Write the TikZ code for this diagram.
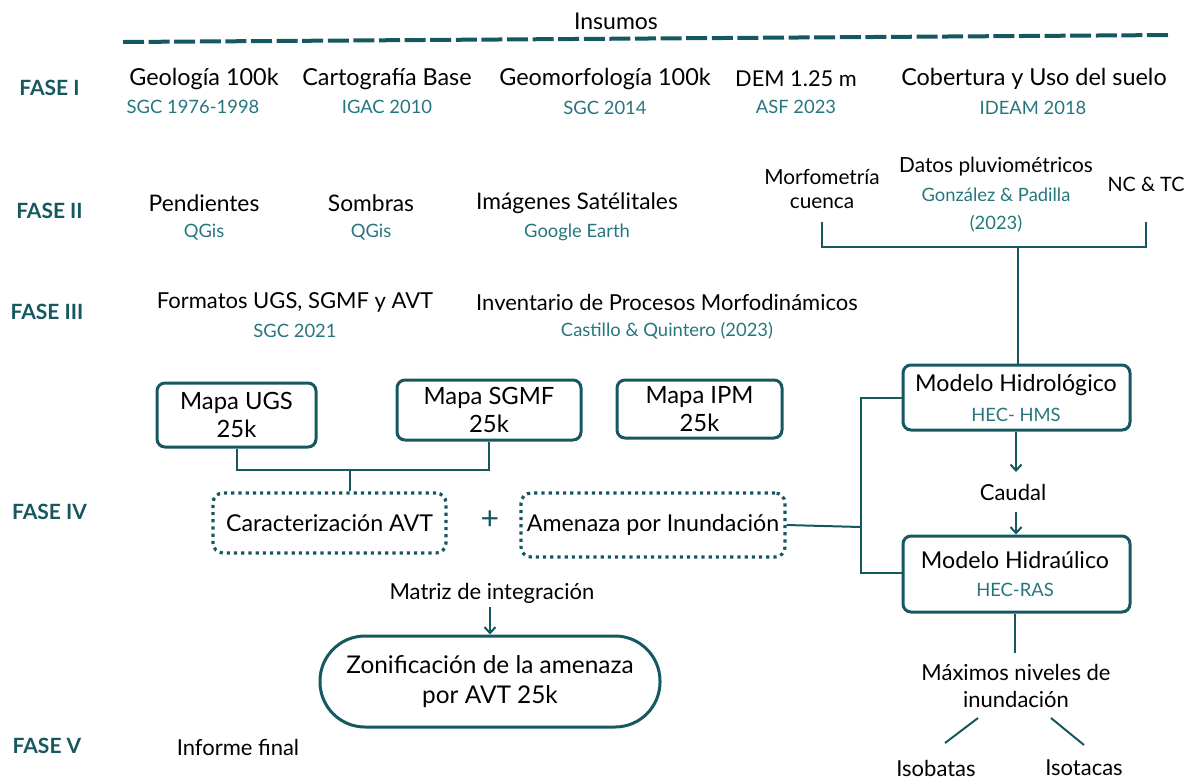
\documentclass[tikz,border=0pt]{standalone}
\usepackage{fontspec}
\setmainfont{Lato}
\usetikzlibrary{arrows.meta}
\definecolor{teal1}{RGB}{22,88,96}
\definecolor{subteal}{RGB}{38,118,126}
\begin{document}
\begin{tikzpicture}[x=0.5pt,y=-0.5pt,
 main/.style={font=\fontsize{11}{14}\selectfont, align=center, inner sep=1pt},
 mainA/.style={font=\fontsize{11.7}{14}\selectfont, align=center, inner sep=1pt},
 mainB/.style={font=\fontsize{11.4}{14}\selectfont, align=center, inner sep=1pt},
 small/.style={font=\fontsize{11}{13.5}\selectfont, align=center, inner sep=1pt},
 sub/.style={font=\fontsize{9.2}{14}\selectfont, text=subteal, align=center, inner sep=1pt},
 fase/.style={font=\bfseries\fontsize{10.5}{12}\selectfont, text=teal1, inner sep=1pt},
 box/.style={draw=teal1, line width=1.5pt, rounded corners=4pt, align=center, inner sep=0pt, font=\fontsize{11.9}{14}\selectfont},
 dotbox/.style={draw=teal1, line width=1.6pt, dotted, rounded corners=5pt, inner sep=0pt, align=center, font=\fontsize{11.6}{14}\selectfont},
 conn/.style={draw=teal1, line width=1pt},
 arr/.style={conn, -{Straight Barb[length=3pt,width=5.5pt]}}]

\useasboundingbox (0,0) rectangle (1193,778);

% header
\node[small, font=\fontsize{11.5}{13}\selectfont] (insumos) at (616,21) {Insumos};
\coordinate (dashA) at (123,42);
\coordinate (dashB) at (1172,35);
\draw[draw=teal1, line width=2pt, dash pattern=on 10.5pt off 2.3pt] (dashA) -- (dashB);

% phase labels
\node[fase] (f1) at (49.5,88) {FASE I};
\node[fase] (f2) at (49.5,211) {FASE II};
\node[fase] (f3) at (47,312) {FASE III};
\node[fase] (f4) at (49.5,512) {FASE IV};
\node[fase] (f5) at (47,746) {FASE V};

% phase I
\node[mainA] (geo) at (204,79) {Geología 100k};
\node[sub] (geos) at (193,107) {SGC 1976-1998};
\node[mainA] (carto) at (387,79) {Cartografía Base};
\node[sub] (cartos) at (387,107) {IGAC 2010};
\node[mainA] (geom) at (605,79) {Geomorfología 100k};
\node[sub] (geoms) at (605,108) {SGC 2014};
\node[mainA, font=\fontsize{10.9}{14}\selectfont] (dem) at (796,79) {DEM 1.25 m};
\node[sub] (dems) at (796,107) {ASF 2023};
\node[mainA] (cob) at (1034,79) {Cobertura y Uso del suelo};
\node[sub] (cobs) at (1033,108) {IDEAM 2018};

% phase II
\node[mainB] (pend) at (204,203) {Pendientes};
\node[sub] (pends) at (204,232) {QGis};
\node[mainB] (somb) at (371,203) {Sombras};
\node[sub] (sombs) at (371,232) {QGis};
\node[mainB] (img) at (577,203) {Imágenes Satélitales};
\node[sub] (imgs) at (577,232) {Google Earth};
\node[main, font=\fontsize{10.4}{12.4}\selectfont] (morf) at (822,189) {Morfometría\\cuenca};
\node[main, font=\fontsize{10.4}{12.4}\selectfont] (datos) at (996,167) {Datos pluviométricos};
\node[sub] (datoss) at (996,210) {González \& Padilla\\(2023)};
\node[main, font=\fontsize{9.9}{12}\selectfont] (nctc) at (1146,184) {NC \& TC};

% phase III
\node[main] (form) at (295,302) {Formatos UGS, SGMF y AVT};
\node[sub] (forms) at (295,331) {SGC 2021};
\node[main] (inv) at (667,302) {Inventario de Procesos Morfodinámicos};
\node[sub] (invs) at (667,331) {Castillo \& Quintero (2023)};

% phase IV boxes
\node[box, minimum width=79.5pt, minimum height=32pt] (ugs) at (236.5,415) {Mapa UGS\\25k};
\node[box, minimum width=92pt, minimum height=30pt] (sgmf) at (489,410) {Mapa SGMF\\25k};
\node[box, minimum width=82.5pt, minimum height=29pt] (ipm) at (699.5,409) {Mapa IPM\\25k};

\node[dotbox, minimum width=116.5pt, minimum height=30pt] (avt) at (329.5,523) {Caracterización AVT};
\node[font=\fontsize{16}{16}\selectfont, text=teal1, inner sep=0pt] (plus) at (490,520) {+};
\node[dotbox, minimum width=132pt, minimum height=32pt] (inund) at (653,525) {Amenaza por Inundación};

\node[box, minimum width=113.5pt, minimum height=32.5pt] (hms) at (1016.5,397.5) {};
\node[main, font=\fontsize{11.6}{13}\selectfont] (hmst) at (1016,385) {Modelo Hidrológico};
\node[sub] (hmss) at (1016,415) {HEC- HMS};

\node[small] (caudal) at (1013,492) {Caudal};

\node[box, minimum width=113.5pt, minimum height=38pt] (ras) at (1016.5,574) {};
\node[main, font=\fontsize{11.6}{13}\selectfont] (rast) at (1015,560) {Modelo Hidraúlico};
\node[sub] (rass) at (1015,590) {HEC-RAS};

% phase V
\node[small] (matriz) at (492,593) {Matriz de integración};
\node[draw=teal1, line width=1.5pt, rounded corners=22.5pt, minimum width=170pt, minimum height=45.5pt, align=center, inner sep=0pt, font=\fontsize{12.2}{15}\selectfont] (zon) at (490,681.5) {Zonificación de la amenaza\\por AVT 25k};
\node[small] (inf) at (238,747) {Informe final};

\node[small] (max) at (1016,686) {Máximos niveles de\\inundación};
\node[small] (isob) at (936,768) {Isobatas};
\node[small] (isot) at (1084,768) {Isotacas};

% connectors
\coordinate (brL) at (822,222);
\coordinate (brR) at (1146,222);
\draw[conn] (brL) -- (822,247) -- (1146,247) -- (brR);
\draw[conn] (1018,247) -- (hms.north -| 1018,0);

\draw[conn] (ugs.south) -- (236.5,470) -| (sgmf.south);
\draw[conn] (350,470) -- (avt.north -| 350,0);

\draw[conn] (inund.east) -- (861,527);
\draw[conn] (hms.west |- 0,398) -| (861,573) -- (ras.west |- 0,573);

\draw[arr] (hms.south -| 1016,0) -- (1016,472);
\draw[arr] (1016,512) -- (ras.north -| 1016,0);
\draw[conn] (ras.south -| 1015,0) -- (1015,653);

\draw[arr] (490,607) -- (zon.north -| 490,0);

\coordinate (dl1) at (945,743);
\coordinate (dl2) at (978,718);
\coordinate (dr1) at (1051,718);
\coordinate (dr2) at (1084,745);
\draw[conn] (dl1) -- (dl2);
\draw[conn] (dr1) -- (dr2);
\end{tikzpicture}
\end{document}
